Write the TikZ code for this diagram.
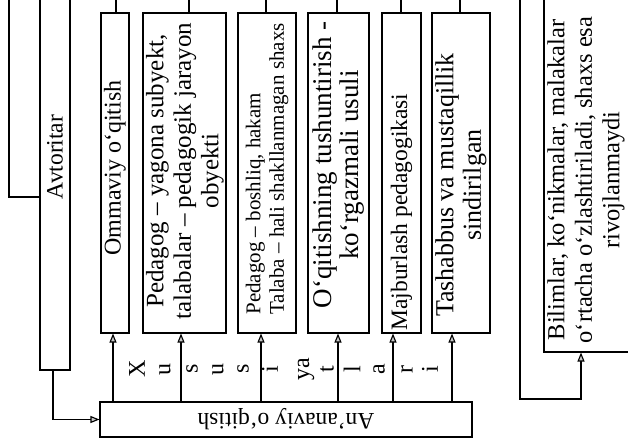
\documentclass[tikz,border=0pt]{standalone}
\usepackage{fontspec}
\setmainfont{Liberation Serif}
\usetikzlibrary{arrows.meta}
\begin{document}
\begin{tikzpicture}[x=1pt,y=-1pt, line width=1.1pt,
  bx/.style={draw, rectangle, inner sep=0pt},
  arr/.style={-{Triangle[length=9pt,width=7pt,fill=gray!45]}},
  txt/.style={rotate=90, align=center, inner sep=0pt, font=\fontsize{24}{27.5}\selectfont},
  fs/.style={font=\fontsize{#1}{27.5}\selectfont}]
\useasboundingbox (0,0) rectangle (628,441);
\coordinate (top) at (0,-6);

% boxes
\node[bx, minimum width=30pt, minimum height=380pt] (av) at (55,180) {};
\node[bx, minimum width=28pt, minimum height=320pt] (om) at (115,173) {};
\node[bx, minimum width=83pt, minimum height=320pt] (py) at (184.5,173) {};
\node[bx, minimum width=58pt, minimum height=320pt] (pb) at (267,173) {};
\node[bx, minimum width=61pt, minimum height=320pt] (pq) at (338.5,173) {};
\node[bx, minimum width=39pt, minimum height=320pt] (pm) at (401.5,173) {};
\node[bx, minimum width=58pt, minimum height=320pt] (pt) at (461,173) {};
\node[bx, minimum width=96pt, minimum height=362pt] (bl) at (592,171) {};
\node[bx, minimum width=372pt, minimum height=35pt] (an) at (286,419.5) {};

% texts
\node[txt, fs=23.5] (tav) at (55,157) {Avtoritar};
\node[txt, fs=24] (tom) at (115,168) {Ommaviy oʻqitish};
\node[txt, fs=25] (tpy) at (185,171) {Pedagog – yagona subyekt,\\talabalar – pedagogik jarayon\\obyekti};
\node[txt, align=left, font=\fontsize{21}{23.5}\selectfont] (tpb) at (267,169) {Pedagog – boshliq, hakam\\Talaba – hali shakllanmagan shaxs};
\node[txt, fs=27] (tpq) at (338.5,165) {Oʻqitishning tushuntirish -\\koʻrgazmali usuli};
\node[txt, fs=23.5] (tpm) at (401.5,212) {Majburlash pedagogikasi};
\node[txt, fs=26] (tpt) at (461,185) {Tashabbus va mustaqillik\\sindirilgan};
\node[txt, fs=24.5] (tbl) at (586,180) {Bilimlar, koʻnikmalar, malakalar\\oʻrtacha oʻzlashtiriladi, shaxs esa\\rivojlanmaydi};
\node[inner sep=0pt, rotate=180, font=\fontsize{23.5}{27}\selectfont] (tan) at (an.center) {Anʼanaviy oʻqitish};

% letters
\foreach \n/\x/\t in {1/137/X,2/165/u,3/192/s,4/218/u,5/243/s,6/270/i,7/306/ya,8/327/t,9/352/l,10/379/a,11/407/r,12/430/i}
  \node[txt] (k\n) at (\x,369) {\t};

% lines to the top
\draw ([xshift=1pt]om.north) -- ([xshift=1pt]om.north |- top);
\draw ([xshift=4.5pt]py.north) -- ([xshift=4.5pt]py.north |- top);
\draw ([xshift=-1pt]pb.north) -- ([xshift=-1pt]pb.north |- top);
\draw ([xshift=-1.5pt]pq.north) -- ([xshift=-1.5pt]pq.north |- top);
\draw ([xshift=-0.5pt]pm.north) -- ([xshift=-0.5pt]pm.north |- top);
\draw ([xshift=-1pt]pt.north) -- ([xshift=-1pt]pt.north |- top);

% arrows from An'anaviy
\coordinate (a1) at ([xshift=-2pt]om.south);
\coordinate (a2) at ([xshift=-3.5pt]py.south);
\coordinate (a3) at ([xshift=-6pt]pb.south);
\coordinate (a4) at ([xshift=-0.5pt]pq.south);
\coordinate (a5) at ([xshift=-8.5pt]pm.south);
\coordinate (a6) at ([xshift=-9pt]pt.south);
\foreach \i in {1,...,6}
  \draw[arr] (a\i |- an.north) -- (a\i);

% left structure
\coordinate (L) at (9,197);
\draw (L |- top) -- (L) -- (L -| av.west);
\draw[arr] ([xshift=-2pt]av.south) |- (an.west);

% right structure
\coordinate (B) at (520,399);
\coordinate (bs) at ([xshift=-11pt]bl.south);
\draw[arr] (B |- top) -- (B) -| (bs);
\end{tikzpicture}
\end{document}
